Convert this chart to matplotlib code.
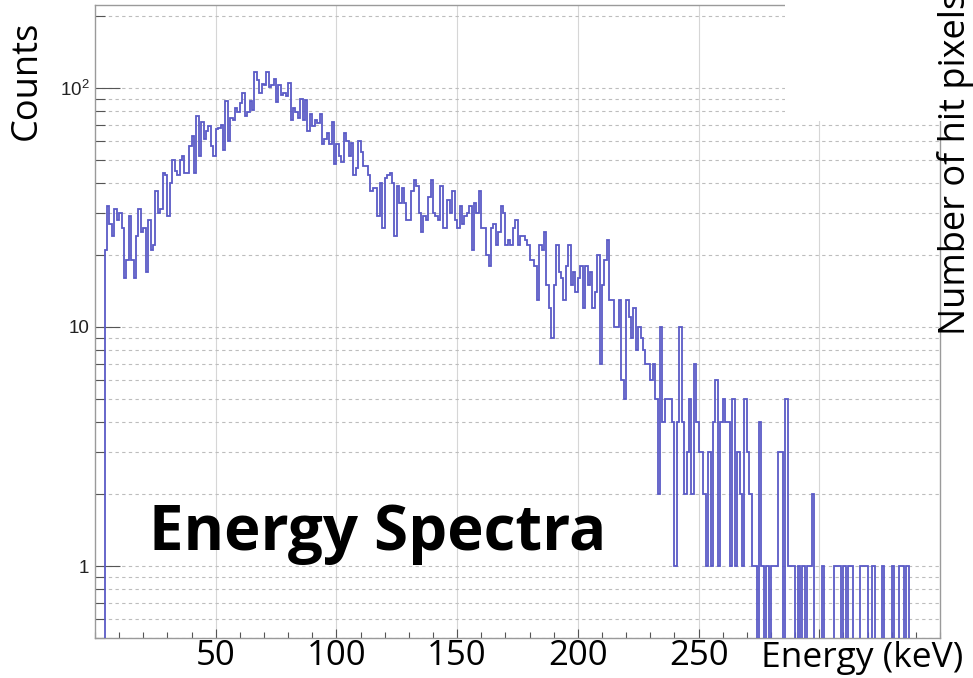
import numpy as np
import matplotlib.pyplot as plt
from matplotlib.patches import Rectangle
from matplotlib.ticker import LogLocator, MultipleLocator, NullFormatter

# histogram: 1 keV bins starting at 4 keV
bin_start = 4
bin_width = 1
counts = [
    # 4 - 70 keV
    21, 32, 27, 24, 31, 28, 30, 26, 16, 19,
    29, 19, 16, 24, 31, 25, 26, 17, 28, 21,
    22, 37, 30, 31, 44, 43, 29, 40, 50, 45,
    43, 50, 52, 44, 44, 57, 63, 44, 76, 52,
    72, 61, 66, 69, 57, 52, 67, 68, 70, 55,
    88, 60, 75, 73, 82, 79, 86, 95, 76, 79,
    88, 81, 117, 108, 95, 104, 103,
    # 71 - 141 keV
    117, 101, 103, 109, 87, 103, 93, 95, 92, 105,
    73, 82, 79, 75, 90, 73, 89, 66, 78, 69,
    73, 71, 78, 58, 61, 65, 58, 72, 48, 58,
    52, 49, 65, 60, 52, 59, 43, 46, 60, 54,
    47, 47, 43, 37, 38, 38, 29, 40, 26, 42,
    43, 44, 40, 24, 39, 33, 38, 33, 28, 28,
    37, 41, 39, 30, 25, 29, 28, 35, 41, 30,
    29,
    # 142 - 207 keV
    28, 39, 26, 26, 34, 30, 37, 28, 26, 32,
    27, 29, 30, 32, 21, 33, 30, 37, 26, 26,
    20, 18, 26, 27, 22, 25, 32, 30,
    22, 23, 22, 26, 28, 22, 24, 24, 23, 22,
    19, 19, 18, 13, 22, 21, 25, 15, 12, 9,
    15, 22, 17, 16, 13, 18, 22, 15, 17, 14,
    16, 18, 12, 18, 15, 17, 12, 14,
    # 208 - 271 keV
    20, 7, 15, 19, 23, 13, 13, 10, 10, 13,
    6, 5, 13, 11, 9, 12, 8, 10, 9, 8,
    7, 7, 6, 7, 5, 2, 10, 4, 5, 5,
    5, 4, 1, 4, 10, 4, 2, 3, 5, 2,
    7, 4, 3, 3, 2, 1, 3, 1, 4, 6,
    1, 4, 5, 4, 4, 1, 5, 1, 3, 2,
    1, 5, 3, 2,
    # 272 - 336 keV
    1, 1, 0, 4, 1, 0, 1, 0, 1, 1,
    1, 3, 3, 0, 5, 1, 1, 1, 0, 1,
    0, 1, 0, 1, 1, 2, 0, 0, 0, 1,
    0, 0, 0, 0, 1, 1, 1, 0, 1, 0,
    1, 1, 0, 0, 0, 1, 1, 1, 0, 0,
    1, 0, 0, 0, 1, 0, 0, 0, 1, 0,
    0, 1, 1, 0, 1,
]

x_ticks = [50, 100, 150, 200, 250, 300]
x_tick_labels = ["50", "100", "150", "200", "250", ""]
y_ticks = [1, 10, 100]
y_tick_labels = ["1", "10", r"10$^{2}$"]

plt.rcParams["mathtext.fontset"] = "custom"
plt.rcParams["mathtext.rm"] = "Liberation Sans"
plt.rcParams["font.family"] = ["Open Sans", "DejaVu Sans"]

W, H = 973, 678
fig = plt.figure(figsize=(W / 100, H / 100), dpi=100)
ax = fig.add_axes([95 / W, 1 - 638 / H, (940 - 95) / W, (638 - 5) / H])

edges = bin_start + bin_width * np.arange(len(counts) + 1)
vals = np.array(counts, dtype=float)
floor = 1e-3  # empty bins drop to the bottom of the log axis
ax.stairs(np.where(vals > 0, vals, floor), edges, baseline=floor,
          color="#5a5ac6", lw=1.3, zorder=3)

ax.set_yscale("log")
ax.set_xlim(0, 350)
ax.set_ylim(0.5, 222)

ax.set_xticks(x_ticks, labels=x_tick_labels)
ax.xaxis.set_minor_locator(MultipleLocator(10))
ax.set_yticks(y_ticks, labels=y_tick_labels)
ax.yaxis.set_minor_locator(LogLocator(base=10, subs=np.arange(2, 10)))
ax.yaxis.set_minor_formatter(NullFormatter())

ax.set_axisbelow(True)
ax.grid(which="both", axis="y", ls=(0, (3, 3)), color="#bdbdbd", lw=0.8)
ax.grid(which="major", axis="x", ls="-", color="#d6d6d6", lw=0.8)

ax.tick_params(axis="x", which="major", direction="in", length=6.5, width=0.8,
               color="#555555", pad=1, labelsize=25, labelcolor="black")
ax.tick_params(axis="x", which="minor", direction="in", length=4, width=0.8,
               color="#555555")
ax.tick_params(axis="y", which="major", direction="in", length=18, width=0.8,
               color="#555555", pad=4, labelsize=13.5, labelcolor="#222222")
ax.tick_params(axis="y", which="minor", direction="in", length=7, width=0.8,
               color="#555555")
for lab in ax.get_yticklabels():
    lab.set_family("Liberation Sans")

for s in ax.spines.values():
    s.set_color("#9a9a9a")
    s.set_linewidth(1.0)

# blank patch over the top-right corner
fig.add_artist(Rectangle((785 / W, 1 - 121 / H), 1, 1, transform=fig.transFigure,
                         facecolor="white", edgecolor="none", zorder=2))

fig.text(27 / W, 1 - 140 / H, "Counts", rotation=90, ha="center", va="bottom",
         fontsize=26, zorder=4)
fig.text(955 / W, 1 - 335 / H, "Number of hit pixels", rotation=90,
         ha="center", va="bottom", fontsize=26, zorder=4)
fig.text(761 / W, 1 - 667 / H, "Energy (keV)", ha="left", va="baseline",
         fontsize=25.5, zorder=4)
fig.text(378 / W, 1 - 550 / H, "Energy Spectra", ha="center", va="baseline",
         fontsize=44.5, fontweight="bold", zorder=4)

fig.savefig("out.png", dpi=100)
